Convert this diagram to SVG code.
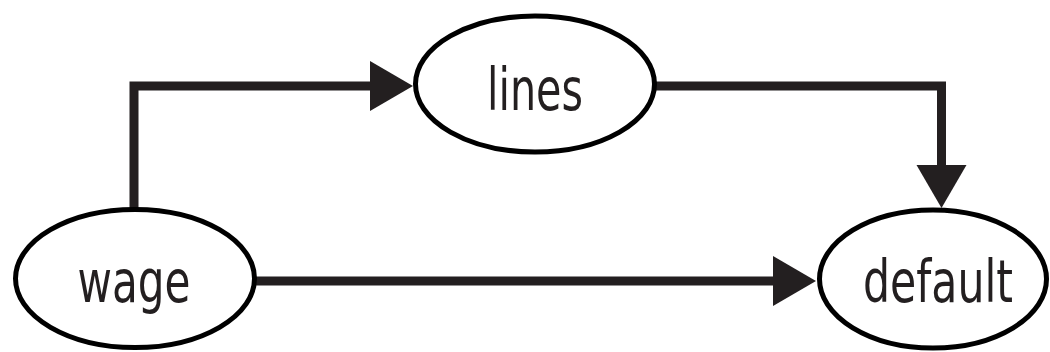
<svg xmlns="http://www.w3.org/2000/svg" width="1050" height="352" viewBox="0 0 1050 352">
<style>
.node ellipse{fill:#fff;stroke:#000;stroke-width:5}
.node text{font-family:"DejaVu Sans Condensed","DejaVu Sans",sans-serif;font-stretch:condensed;font-size:59px;fill:#231f20;text-anchor:middle}
.edge{fill:none;stroke:#231f20;stroke-width:9;stroke-linejoin:miter;stroke-linecap:butt}
</style>
<defs>
<marker id="arr" markerUnits="userSpaceOnUse" markerWidth="44" markerHeight="52" refX="0" refY="26" orient="auto" viewBox="0 0 44 52">
<path d="M0,1 L43,26 L0,51 z" fill="#231f20"/>
</marker>
</defs>
<g id="connectors">
<path class="edge" d="M134,210 V86 H370" marker-end="url(#arr)"/>
<path class="edge" d="M655,86 H941.5 V165" marker-end="url(#arr)"/>
<path class="edge" d="M255,281 H773" marker-end="url(#arr)"/>
</g>
<g id="wage" class="node">
<ellipse cx="135" cy="278.5" rx="119.5" ry="69"/>
<text x="134" y="302" textLength="113" lengthAdjust="spacingAndGlyphs">wage</text>
</g>
<g id="lines" class="node">
<ellipse cx="535" cy="84" rx="119.5" ry="68"/>
<text x="535" y="110" textLength="96" lengthAdjust="spacingAndGlyphs">lines</text>
</g>
<g id="default" class="node">
<ellipse cx="933" cy="279" rx="113.5" ry="69"/>
<text x="938" y="302" textLength="150" lengthAdjust="spacingAndGlyphs">default</text>
</g>
</svg>
